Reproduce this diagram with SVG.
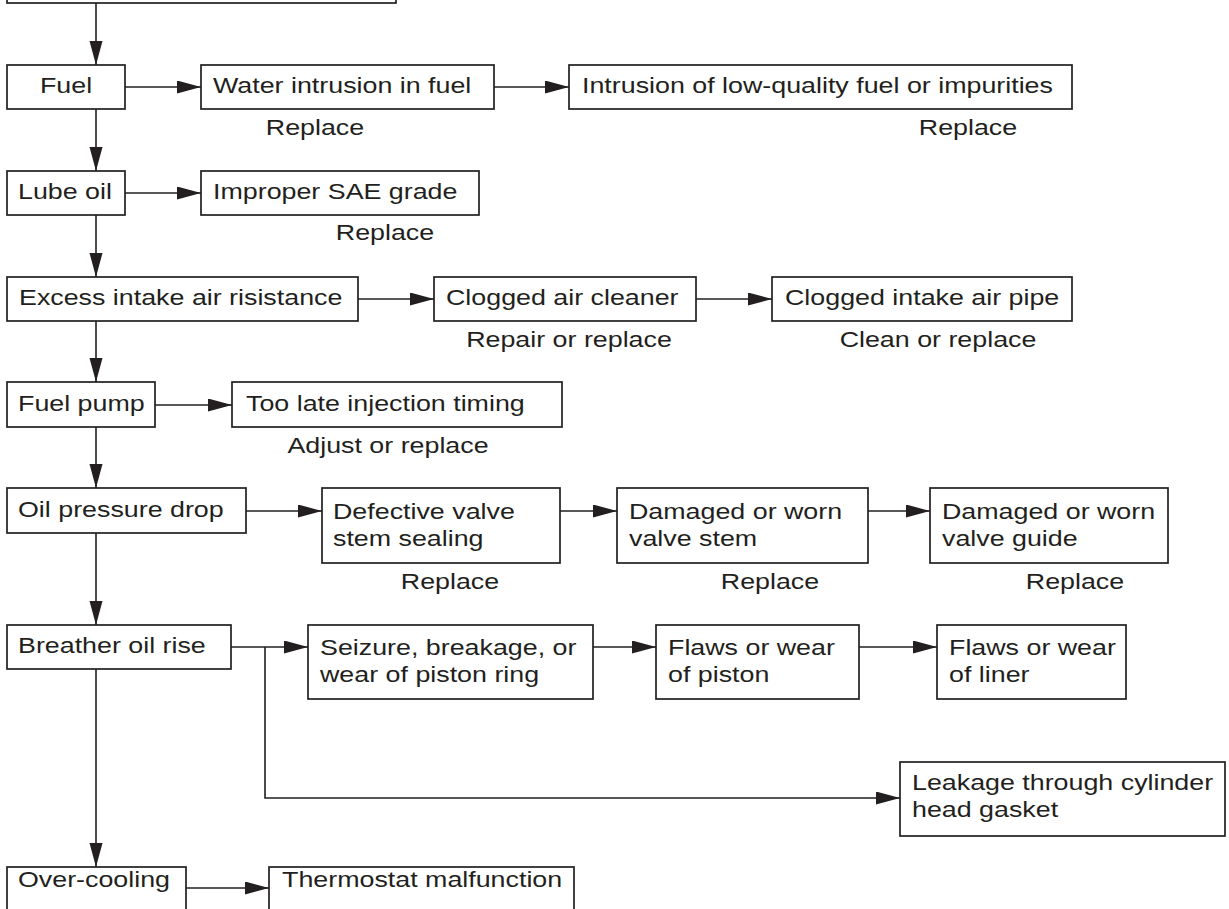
<svg xmlns="http://www.w3.org/2000/svg" width="1229" height="909" viewBox="0 0 1229 909">
<defs>
<marker id="ah" markerUnits="userSpaceOnUse" markerWidth="26" markerHeight="14" refX="24" refY="6.5" orient="auto">
<path d="M0,0 L24,6.5 L0,13 Z" fill="#231f20"/>
</marker>
<style>
.b{fill:#fff;stroke:#231f20;stroke-width:1.7}
.c{fill:none;stroke:#231f20;stroke-width:1.6;marker-end:url(#ah)}
text{font-family:"Liberation Sans",Arial,sans-serif;font-size:22px;fill:#231f20}
.m{text-anchor:middle}
</style>
</defs>
<rect width="1229" height="909" fill="#fff"/>
<g id="connectors">
<line class="c" x1="96" y1="3" x2="96" y2="65"/>
<line class="c" x1="96" y1="109" x2="96" y2="171"/>
<line class="c" x1="96" y1="215" x2="96" y2="277"/>
<line class="c" x1="96" y1="321" x2="96" y2="382"/>
<line class="c" x1="96" y1="427" x2="96" y2="488"/>
<line class="c" x1="96" y1="533" x2="96" y2="625"/>
<line class="c" x1="96" y1="669" x2="96" y2="867"/>
<line class="c" x1="125" y1="87" x2="201" y2="87"/>
<line class="c" x1="494" y1="87" x2="569" y2="87"/>
<line class="c" x1="125" y1="193" x2="201" y2="193"/>
<line class="c" x1="358" y1="299" x2="434" y2="299"/>
<line class="c" x1="696" y1="299" x2="772" y2="299"/>
<line class="c" x1="155" y1="405" x2="232" y2="405"/>
<line class="c" x1="246" y1="511" x2="322" y2="511"/>
<line class="c" x1="560" y1="511" x2="617" y2="511"/>
<line class="c" x1="868" y1="511" x2="930" y2="511"/>
<line class="c" x1="231" y1="647" x2="308" y2="647"/>
<line class="c" x1="593" y1="647" x2="656" y2="647"/>
<line class="c" x1="859" y1="647" x2="937" y2="647"/>
<path class="c" d="M265,647 V798 H900"/>
<line class="c" x1="186" y1="888" x2="269" y2="888"/>
</g>
<g id="top"><rect class="b" x="7" y="-50" width="389" height="53"/></g>
<g id="fuel"><rect class="b" x="7" y="65" width="118" height="44"/><text transform="translate(66,93) scale(1.22,1)" class="m">Fuel</text></g>
<g id="water"><rect class="b" x="201" y="65" width="293" height="44"/><text transform="translate(213,93) scale(1.22,1)">Water intrusion in fuel</text><text transform="translate(315,135) scale(1.22,1)" class="m">Replace</text></g>
<g id="lowq"><rect class="b" x="569" y="65" width="503" height="44"/><text transform="translate(582,93) scale(1.22,1)">Intrusion of low-quality fuel or impurities</text><text transform="translate(968,135) scale(1.22,1)" class="m">Replace</text></g>
<g id="lube"><rect class="b" x="7" y="171" width="118" height="44"/><text transform="translate(18,199) scale(1.22,1)">Lube oil</text></g>
<g id="sae"><rect class="b" x="201" y="171" width="278" height="44"/><text transform="translate(213,199) scale(1.22,1)">Improper SAE grade</text><text transform="translate(385,240) scale(1.22,1)" class="m">Replace</text></g>
<g id="excess"><rect class="b" x="7" y="277" width="351" height="44"/><text transform="translate(19,305) scale(1.22,1)">Excess intake air risistance</text></g>
<g id="cleaner"><rect class="b" x="434" y="277" width="262" height="44"/><text transform="translate(446,305) scale(1.22,1)">Clogged air cleaner</text><text transform="translate(569,347) scale(1.22,1)" class="m">Repair or replace</text></g>
<g id="pipe"><rect class="b" x="772" y="277" width="300" height="44"/><text transform="translate(785,305) scale(1.22,1)">Clogged intake air pipe</text><text transform="translate(938,347) scale(1.22,1)" class="m">Clean or replace</text></g>
<g id="pump"><rect class="b" x="7" y="382" width="148" height="45"/><text transform="translate(18,411) scale(1.22,1)">Fuel pump</text></g>
<g id="timing"><rect class="b" x="232" y="382" width="330" height="45"/><text transform="translate(246,411) scale(1.22,1)">Too late injection timing</text><text transform="translate(388,453) scale(1.22,1)" class="m">Adjust or replace</text></g>
<g id="oilp"><rect class="b" x="7" y="488" width="239" height="45"/><text transform="translate(18,517) scale(1.22,1)">Oil pressure drop</text></g>
<g id="seal"><rect class="b" x="322" y="488" width="238" height="75"/><text transform="translate(333,519) scale(1.22,1)">Defective valve</text><text transform="translate(333,546) scale(1.22,1)">stem sealing</text><text transform="translate(450,589) scale(1.22,1)" class="m">Replace</text></g>
<g id="stem"><rect class="b" x="617" y="488" width="251" height="75"/><text transform="translate(629,519) scale(1.22,1)">Damaged or worn</text><text transform="translate(629,546) scale(1.22,1)">valve stem</text><text transform="translate(770,589) scale(1.22,1)" class="m">Replace</text></g>
<g id="guide"><rect class="b" x="930" y="488" width="238" height="75"/><text transform="translate(942,519) scale(1.22,1)">Damaged or worn</text><text transform="translate(942,546) scale(1.22,1)">valve guide</text><text transform="translate(1075,589) scale(1.22,1)" class="m">Replace</text></g>
<g id="breather"><rect class="b" x="7" y="625" width="224" height="44"/><text transform="translate(18,653) scale(1.22,1)">Breather oil rise</text></g>
<g id="ring"><rect class="b" x="308" y="625" width="285" height="74"/><text transform="translate(320,655) scale(1.22,1)">Seizure, breakage, or</text><text transform="translate(320,682) scale(1.22,1)">wear of piston ring</text></g>
<g id="piston"><rect class="b" x="656" y="625" width="203" height="74"/><text transform="translate(668,655) scale(1.22,1)">Flaws or wear</text><text transform="translate(668,682) scale(1.22,1)">of piston</text></g>
<g id="liner"><rect class="b" x="937" y="625" width="189" height="74"/><text transform="translate(949,655) scale(1.22,1)">Flaws or wear</text><text transform="translate(949,682) scale(1.22,1)">of liner</text></g>
<g id="gasket"><rect class="b" x="900" y="762" width="325" height="74"/><text transform="translate(912,790) scale(1.22,1)">Leakage through cylinder</text><text transform="translate(912,817) scale(1.22,1)">head gasket</text></g>
<g id="overcool"><rect class="b" x="7" y="867" width="179" height="70"/><text transform="translate(18,887) scale(1.22,1)">Over-cooling</text></g>
<g id="thermo"><rect class="b" x="269" y="867" width="305" height="70"/><text transform="translate(282,887) scale(1.22,1)">Thermostat malfunction</text></g>
</svg>
